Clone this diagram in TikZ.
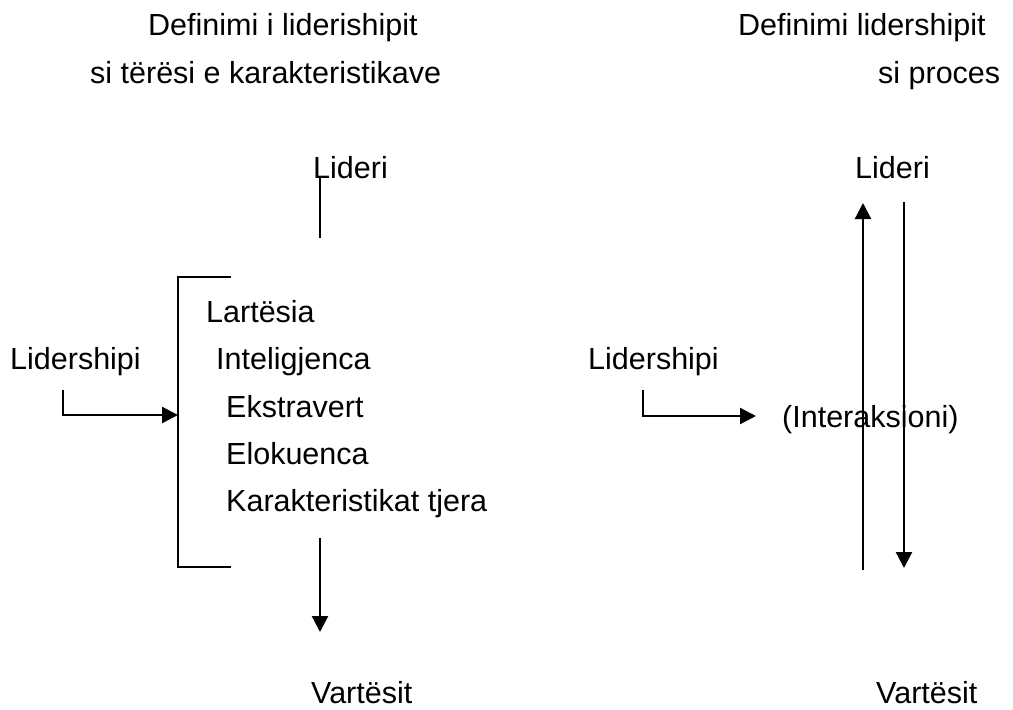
\documentclass[tikz,border=0pt]{standalone}
\usepackage{fontspec}
\setmainfont{Liberation Sans}
\usetikzlibrary{arrows.meta,positioning}

\begin{document}
\begin{tikzpicture}[
    x=1pt, y=-1pt,
    label/.style={anchor=base west, inner sep=0pt, font=\fontsize{30.5}{36}\selectfont},
    line/.style={line width=2.3pt},
    arrow/.style={line width=2.3pt, -{Triangle[length=16pt,width=16pt]}}
]
\useasboundingbox (0,0) rectangle (1013,710);
% Titles
\node[label] (titleL1) at (148,35) {Definimi i liderishipit};
\node[label] (titleL2) at (90,83) {si tërësi e karakteristikave};
\node[label] (titleR1) at (738,35) {Definimi lidershipit};
\node[label] (titleR2) at (878,83) {si proces};
% Left side: traits
\node[label] (lideriL) at (313,178) {Lideri};
\node[label] (lshipL) at (10,369) {Lidershipi};
\node[label] (lartesia) at (206,322) {Lartësia};
\node[label] (intelig) at (216,369) {Inteligjenca};
\node[label] (ekstra) at (226,417) {Ekstravert};
\node[label] (elokuen) at (226,464) {Elokuenca};
\node[label] (karakt) at (226,511) {Karakteristikat tjera};
\node[label] (vartesL) at (311,703) {Vartësit};
% Right side: process
\node[label] (lideriR) at (855,178) {Lideri};
\node[label] (lshipR) at (588,369) {Lidershipi};
\node[label] (interakt) at (782,427) {(Interaksioni)};
\node[label] (vartesR) at (876,703) {Vartësit};
% Connector ends
\coordinate (stemL) at (320,238);
\coordinate (brTop) at (231,277);
\coordinate (brBot) at (231,567);
\coordinate (brIn) at (178,415);
\coordinate (footL) at (63,390);
\coordinate (downTop) at (320,538);
\coordinate (downEnd) at (320,632);
\coordinate (footR) at (643,390);
\coordinate (interIn) at (756,416);
\coordinate (upStart) at (863,570);
\coordinate (upEnd) at (863,203);
\coordinate (dnStart) at (904,202);
\coordinate (dnEnd) at (904,568);
% Lines
\draw[line] ([xshift=7pt]lideriL.base west) -- (stemL);
\draw[line] (brTop) -- ++(-53,0) |- (brBot);
\draw[arrow] (footL) |- (brIn);
\draw[arrow] (downTop) -- (downEnd);
\draw[arrow] (footR) |- (interIn);
\draw[arrow] (upStart) -- (upEnd);
\draw[arrow] (dnStart) -- (dnEnd);
\end{tikzpicture}
\end{document}
